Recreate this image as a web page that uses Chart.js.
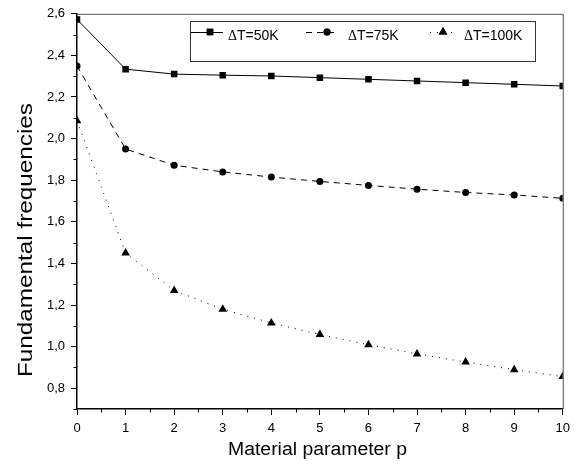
<!DOCTYPE html>
<html>
<head>
<meta charset="utf-8">
<script src="https://cdn.jsdelivr.net/npm/chart.js@4.4.1/dist/chart.umd.min.js"></script>
<style>
  html, body { margin: 0; padding: 0; background: #fff; }
  canvas { display: block; }
</style>
</head>
<body>
<canvas id="chart" width="576" height="474"></canvas>
<script>
// material parameter p
const pValues = [0, 1, 2, 3, 4, 5, 6, 7, 8, 9, 10];
// fundamental frequencies
const freq50 = [2.573, 2.334, 2.310, 2.305, 2.301, 2.293, 2.285, 2.277, 2.269, 2.261, 2.253];
const freq75 = [2.349, 1.950, 1.872, 1.840, 1.815, 1.794, 1.775, 1.757, 1.741, 1.729, 1.713];
const freq100 = [2.086, 1.450, 1.270, 1.179, 1.114, 1.058, 1.009, 0.965, 0.926, 0.889, 0.856];
const seriesLabels = ['ΔT=50K', 'ΔT=75K', 'ΔT=100K'];
const xTickValues = [0, 1, 2, 3, 4, 5, 6, 7, 8, 9, 10];
const yTickValues = [0.8, 1.0, 1.2, 1.4, 1.6, 1.8, 2.0, 2.2, 2.4, 2.6];
const xTitle = 'Material parameter p';
const yTitle = 'Fundamental frequencies';

function toPoints(ys) {
  return pValues.map((p, i) => ({ x: p, y: ys[i] }));
}

// text stretched along its run to a given length (the figure's titles are stretched)
function fitText(ctx, text, len) {
  const w = ctx.measureText(text).width;
  ctx.scale(len / w, 1);
  ctx.fillText(text, 0, 0);
}

// box round the plot, minor ticks, axis titles and the boxed legend
const framePlugin = {
  id: 'frame',
  afterDraw(chart) {
    const ctx = chart.ctx;
    const a = chart.chartArea;
    const xs = chart.scales.x, ys = chart.scales.y;
    ctx.save();
    ctx.strokeStyle = '#555';
    ctx.lineWidth = 1;
    ctx.beginPath();
    ctx.moveTo(a.left, a.top + 0.5);
    ctx.lineTo(a.right + 0.5, a.top + 0.5);
    ctx.lineTo(a.right + 0.5, a.bottom);
    ctx.stroke();

    // minor ticks
    ctx.strokeStyle = '#000';
    ctx.beginPath();
    for (let v = 0.5; v < 10; v += 1) {
      const px = Math.round(xs.getPixelForValue(v)) + 0.5;
      ctx.moveTo(px, a.bottom);
      ctx.lineTo(px, a.bottom + 3.5);
    }
    for (let v = 0.7; v < 2.6; v += 0.2) {
      const py = Math.round(ys.getPixelForValue(v)) + 0.5;
      ctx.moveTo(a.left, py);
      ctx.lineTo(a.left - 3.5, py);
    }
    ctx.stroke();

    // axis titles
    ctx.fillStyle = '#000';
    ctx.textAlign = 'center';
    ctx.textBaseline = 'alphabetic';
    ctx.font = '18px "Liberation Sans"';
    ctx.save();
    ctx.translate(317.5, 455);
    fitText(ctx, xTitle, 179);
    ctx.restore();
    ctx.font = '21px "Liberation Sans"';
    ctx.save();
    ctx.translate(32, 240);
    ctx.rotate(-Math.PI / 2);
    fitText(ctx, yTitle, 274);
    ctx.restore();

    // legend
    ctx.strokeStyle = '#333';
    ctx.lineWidth = 1;
    ctx.strokeRect(190.5, 21.5, 345, 40);
    const items = [
      { x0: 191, x1: 223, mx: 210, tx: 228 },
      { x0: 306, x1: 339, mx: 327, tx: 348 },
      { x0: 430, x1: 458, mx: 443, tx: 464 }
    ];
    const ly = 32;
    chart.data.datasets.forEach((ds, i) => {
      const it = items[i];
      ctx.strokeStyle = '#000';
      ctx.lineWidth = 1;
      ctx.setLineDash(ds.borderDash || []);
      ctx.beginPath();
      ctx.moveTo(it.x0, ly + 0.5);
      ctx.lineTo(it.x1, ly + 0.5);
      ctx.stroke();
      ctx.setLineDash([]);
      ctx.fillStyle = '#000';
      Chart.helpers.drawPoint(ctx, {
        pointStyle: ds.pointStyle, radius: ds.pointRadius, rotation: 0, borderWidth: 0
      }, it.mx, ly);
      ctx.fill();
      ctx.textBaseline = 'alphabetic';
      ctx.textAlign = 'left';
      ctx.font = '14px "Liberation Serif"';
      ctx.fillText(ds.label.charAt(0), it.tx, ly + 8);
      const w = ctx.measureText(ds.label.charAt(0)).width;
      ctx.font = '14px "Liberation Sans"';
      ctx.fillText(ds.label.slice(1), it.tx + w, ly + 8);
    });
    ctx.restore();
  }
};

const commonDs = {
  borderColor: '#000',
  backgroundColor: '#000',
  pointBackgroundColor: '#000',
  pointBorderWidth: 0,
  borderWidth: 1,
  tension: 0,
  fill: false
};

new Chart(document.getElementById('chart'), {
  type: 'line',
  data: {
    datasets: [
      Object.assign({}, commonDs, {
        label: seriesLabels[0], data: toPoints(freq50),
        pointStyle: 'rect', pointRadius: 4.6
      }),
      Object.assign({}, commonDs, {
        label: seriesLabels[1], data: toPoints(freq75),
        pointStyle: 'circle', pointRadius: 3.5, borderDash: [6, 5]
      }),
      Object.assign({}, commonDs, {
        label: seriesLabels[2], data: toPoints(freq100),
        pointStyle: 'triangle', pointRadius: 5, borderDash: [1, 6]
      })
    ]
  },
  options: {
    responsive: false,
    animation: false,
    events: [],
    layout: { padding: { left: 0, right: 13, top: 12, bottom: 0 } },
    plugins: { legend: { display: false }, tooltip: { enabled: false } },
    scales: {
      x: {
        type: 'linear', min: 0, max: 10,
        afterBuildTicks: s => { s.ticks = xTickValues.map(v => ({ value: v })); },
        afterFit: s => { s.height = 65; },
        border: { color: '#000', width: 1.5 },
        grid: { drawOnChartArea: false, drawTicks: true, tickLength: 6, color: '#000' },
        ticks: { color: '#000', font: { family: 'Liberation Sans', size: 13 }, padding: 6, maxRotation: 0 }
      },
      y: {
        type: 'linear', min: 0.7, max: 2.6,
        afterBuildTicks: s => { s.ticks = yTickValues.map(v => ({ value: v })); },
        afterFit: s => { s.width = 77; },
        border: { color: '#000', width: 1.5 },
        grid: { drawOnChartArea: false, drawTicks: true, tickLength: 6, color: '#000' },
        ticks: {
          color: '#000', font: { family: 'Liberation Sans', size: 13 }, padding: 6,
          callback: v => v.toFixed(1).replace('.', ',')
        }
      }
    }
  },
  plugins: [framePlugin]
});
</script>
</body>
</html>
